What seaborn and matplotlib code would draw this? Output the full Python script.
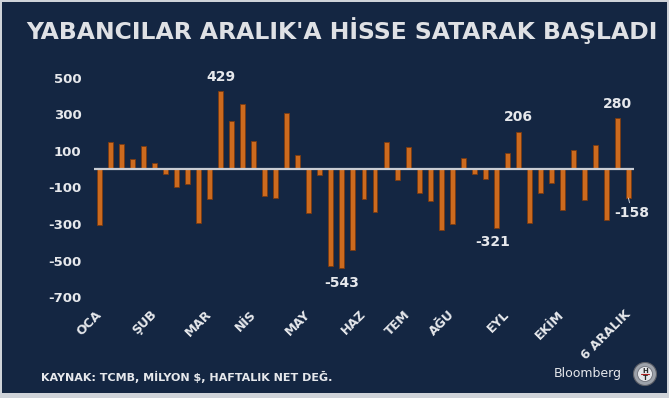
import numpy as np
import pandas as pd
import matplotlib.pyplot as plt
import matplotlib.patches as mpatches
import seaborn as sns

# weekly net foreign flows into equities, million $
weekly_values = [-305, 152, 138, 57, 127, 34, -26, -100, -80, -295,
                 -162, 429, 264, 357, 156, -145, -158, 308, 78, -237,
                 -30, -532, -543, -445, -162, -235, 151, -59, 120, -132,
                 -174, -331, -300, 61, -25, -54, -321, 89, 206, -295,
                 -130, -78, -222, 107, -167, 134, -278, 280, -158]
month_positions = [0, 5, 10, 14, 19, 24, 28, 32, 37, 42, 48]
month_labels = ['OCA', 'ŞUB', 'MAR', 'NİS', 'MAY', 'HAZ', 'TEM', 'AĞU',
                'EYL', 'EKİM', '6 ARALIK']
y_ticks = [500, 300, 100, -100, -300, -500, -700]
labelled_weeks = [11, 38, 47, 22, 36]

navy = '#142642'
orange = '#cc6a1e'
light = '#e6e8ec'

df = pd.DataFrame({'week': list(range(len(weekly_values))), 'value': weekly_values})

sns.set_theme(style="white")
plt.rcParams['font.family'] = ['DejaVu Sans']

fig = plt.figure(figsize=(6.69, 3.98), dpi=100)
fig.patch.set_facecolor('#cfd3d9')
fig.patches.append(mpatches.Rectangle((1.5 / 669, 5 / 398), 665.5 / 669, 391.5 / 398,
                                      transform=fig.transFigure, facecolor=navy,
                                      edgecolor='none', zorder=-1))

ax = fig.add_axes([94 / 669, 1 - 297 / 398, 540 / 669, 219 / 398])
ax.set_facecolor(navy)
ax.patch.set_alpha(0)

sns.barplot(data=df, x='week', y='value', color=orange, width=0.45, ax=ax,
            edgecolor='#7a3a10', linewidth=0.6, saturation=1)
ax.axhline(0, color='#c9ccd3', lw=1.6, zorder=5)

ax.set_xlim(-0.5, len(weekly_values) - 0.5)
ax.set_ylim(-700, 500)
for s in ax.spines.values():
    s.set_visible(False)

ax.set_yticks(y_ticks)
ax.set_yticklabels([str(v) for v in y_ticks], fontsize=9.5, fontweight='bold', color=light)
ax.set_xticks(month_positions)
ax.set_xticklabels(month_labels, rotation=45, ha='right', va='center',
                   rotation_mode='anchor', fontsize=9, fontweight='bold', color=light)
ax.tick_params(axis='x', length=0, pad=11)
ax.tick_params(axis='y', length=0, pad=9)
ax.set_xlabel('')
ax.set_ylabel('')

# value labels
for i in labelled_weeks:
    v = weekly_values[i]
    dx = -0.36 if i == 36 else 0
    if v > 0:
        ax.text(i + dx, v + 40, str(v), ha='center', va='bottom', fontsize=10,
                fontweight='bold', color=light)
    else:
        ax.text(i + dx, v - 40, str(v), ha='center', va='top', fontsize=10,
                fontweight='bold', color=light)

last = len(weekly_values) - 1
ax.annotate(str(weekly_values[last]), xy=(last, weekly_values[last]),
            xytext=(last - 1.3, weekly_values[last] - 82), ha='left', va='center',
            fontsize=10, fontweight='bold', color=light, annotation_clip=False,
            arrowprops=dict(arrowstyle='-', color=light, lw=0.6, shrinkA=0, shrinkB=6))

fig.text(26 / 669, 1 - 31 / 398, "YABANCILAR ARALIK'A HİSSE SATARAK BAŞLADI",
         fontsize=16.9, fontweight='bold', color='#dfe1e5',
         ha='left', va='center')
fig.text(41 / 669, 1 - 377 / 398, "KAYNAK: TCMB, MİLYON $, HAFTALIK NET DEĞ.",
         fontsize=8, fontweight='bold', color=light, ha='left', va='center')
fig.text(622 / 669, 1 - 373 / 398, "Bloomberg", fontsize=9, color=light,
         ha='right', va='center')

# HT logo
cx, cy = 645 / 669, 1 - 374 / 398
fig.patches.append(mpatches.Ellipse((cx, cy), 23 / 669, 23 / 398, transform=fig.transFigure,
                                    facecolor='#9da2aa', edgecolor='#5d6068', lw=0.8))
fig.patches.append(mpatches.Ellipse((cx, cy), 15 / 669, 15 / 398, transform=fig.transFigure,
                                    facecolor='#e4e6ea', edgecolor='#6d7078', lw=0.6))
fig.text(cx, cy + 3 / 398, 'H', fontsize=5, fontweight='bold', color='#2a2a2a',
         ha='center', va='center')
fig.text(cx, cy - 4 / 398, 'T', fontsize=5, fontweight='bold', color='#2a2a2a',
         ha='center', va='center')
fig.lines.append(plt.Line2D([cx - 4 / 669, cx + 4 / 669], [cy, cy], transform=fig.transFigure,
                            color='#b02020', lw=0.8))

fig.savefig('out.png', dpi=100, facecolor=fig.get_facecolor())
